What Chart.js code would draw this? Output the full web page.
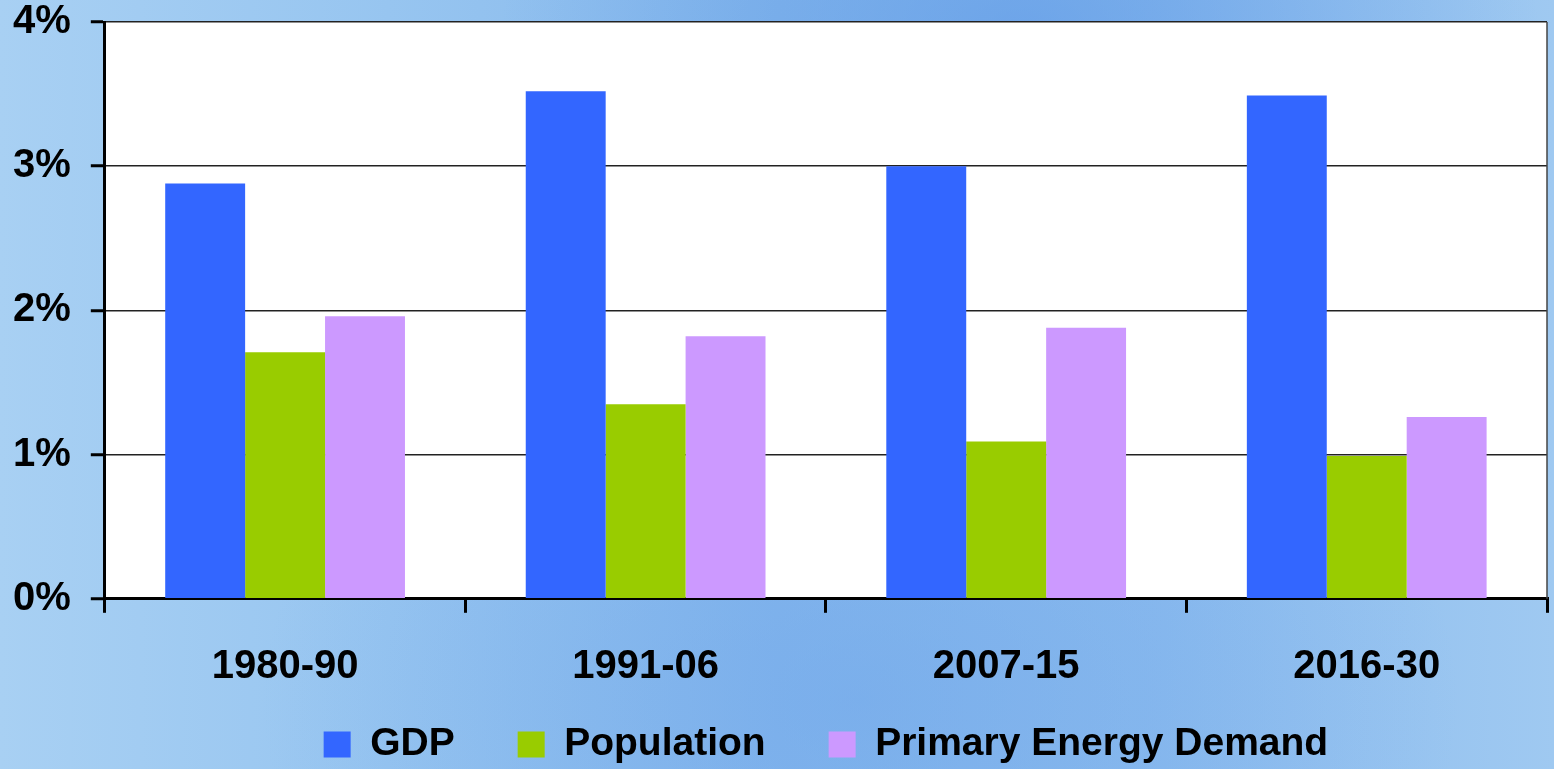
<!DOCTYPE html>
<html>
<head>
<meta charset="utf-8">
<script src="https://cdn.jsdelivr.net/npm/chart.js@4.4.1/dist/chart.umd.min.js"></script>
<style>
html,body{margin:0;padding:0;width:1554px;height:769px;overflow:hidden;}
body{
  background:
    radial-gradient(ellipse 520px 300px at 1020px 30px, rgba(90,150,230,0.6), rgba(90,150,230,0) 100%),
    radial-gradient(ellipse 600px 400px at 860px 700px, rgba(110,165,235,0.5), rgba(110,165,235,0) 100%),
    linear-gradient(90deg, #a8d0f3 0%, #97c5f0 25%, #86b8ec 50%, #8cbcee 75%, #9fc9f1 100%);
}
#wrap{position:absolute;left:0;top:-22px;width:1554px;height:791px;}
</style>
</head>
<body>
<div id="wrap"><canvas id="c" width="1554" height="791"></canvas></div>
<script>
const categories = ["1980-90", "1991-06", "2007-15", "2016-30"];
const gdp = [2.88, 3.52, 3.00, 3.49];
const population = [1.71, 1.35, 1.09, 0.99];
const energyDemand = [1.96, 1.82, 1.88, 1.26];
const yTicks = [0, 1, 2, 3, 4];

const FONT = "'Liberation Sans', Arial, sans-serif";

const plotBg = {
  id: 'plotBg',
  beforeDraw(chart) {
    const {ctx, chartArea: a} = chart;
    ctx.save();
    ctx.fillStyle = '#ffffff';
    ctx.fillRect(a.left, a.top, a.right - a.left, a.bottom - a.top);
    ctx.restore();
  },
  afterDatasetsDraw(chart) {
    const {ctx, chartArea: a} = chart;
    ctx.save();
    ctx.strokeStyle = '#444444';
    ctx.lineWidth = 1.5;
    ctx.beginPath();
    ctx.moveTo(a.right, a.top);
    ctx.lineTo(a.right, a.bottom);
    ctx.stroke();
    ctx.restore();
  }
};

new Chart(document.getElementById('c'), {
  type: 'bar',
  data: {
    labels: categories,
    datasets: [
      {label: 'GDP', data: gdp, backgroundColor: '#3366ff'},
      {label: 'Population', data: population, backgroundColor: '#99cc00'},
      {label: 'Primary Energy Demand', data: energyDemand, backgroundColor: '#cc99ff'}
    ]
  },
  options: {
    responsive: false,
    animation: false,
    devicePixelRatio: 1,
    layout: {padding: {left: -7, right: 7, top: 0, bottom: -5}},
    datasets: {bar: {categoryPercentage: 0.665, barPercentage: 1.0}},
    plugins: {
      tooltip: {enabled: false},
      legend: {
        position: 'bottom',
        fullSize: false,
        title: {display: true, text: '', font: {size: 1}, padding: {top: -30, bottom: 0}},
        labels: {
          color: '#000',
          font: {family: FONT, size: 39, weight: 'bold'},
          boxWidth: 27,
          boxHeight: 26,
          padding: 63
        }
      }
    },
    scales: {
      x: {
        offset: true,
        afterFit(axis) { axis.height = 92; },
        grid: {offset: true, drawOnChartArea: false, drawTicks: true, tickLength: 14, tickColor: '#000', lineWidth: 3},
        border: {color: '#000', width: 3},
        ticks: {color: '#000', font: {family: FONT, size: 40, weight: 'bold'}, padding: 30}
      },
      y: {
        min: 0, max: 4,
        afterBuildTicks(axis) { axis.ticks = yTicks.map(v => ({value: v})); },
        grid: {color: '#222', lineWidth: 1.5, tickLength: 14, tickColor: '#000', tickWidth: 3},
        border: {color: '#000', width: 3},
        ticks: {color: '#000', font: {family: FONT, size: 40, weight: 'bold'}, padding: 20,
          callback: v => v + '%'}
      }
    }
  },
  plugins: [plotBg]
});
</script>
</body>
</html>
